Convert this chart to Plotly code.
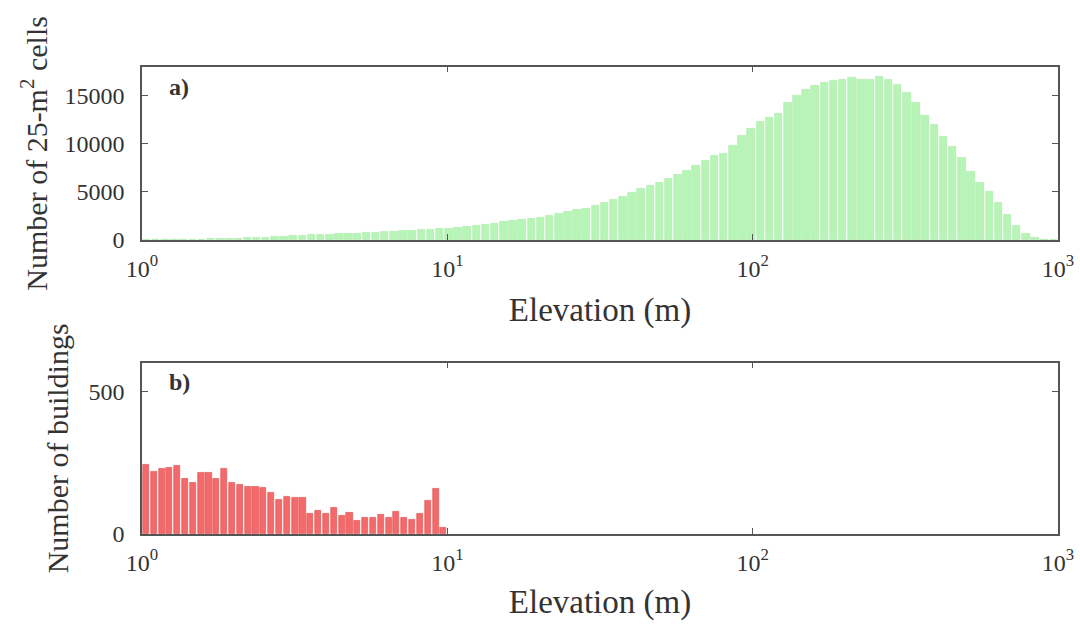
import numpy as np
import plotly.graph_objects as go

# ---------------- data ----------------
# Panel a) number of 25-m2 cells per elevation bin (100 log-spaced bins, 1 m .. 1000 m)
cells_counts = [
    0, 20, 30, 40, 50, 60, 80, 100, 120, 150,
    180, 210, 250, 290, 340, 380, 420, 460, 500, 540,
    580, 620, 660, 700, 740, 790, 830, 880, 930, 980,
    1030, 1080, 1130, 1200, 1300, 1400, 1500, 1600, 1720, 1850,
    2000, 2100, 2200, 2350, 2500, 2700, 2900, 3100, 3300, 3600,
    3900, 4200, 4500, 4900, 5300, 5600, 6000, 6400, 6800, 7200,
    7700, 8200, 8800, 9000, 9800, 10800, 11600, 12300, 12700, 13100,
    14300, 15000, 15600, 16000, 16300, 16500, 16700, 16900, 16700, 16700,
    17000, 16700, 16100, 15300, 14300, 12900, 12000, 10700, 9700, 8500,
    7100, 6000, 5000, 3900, 2600, 1500, 700, 250, 60, 10,
]
cells_decades = 3.0  # bins span 10^0 .. 10^3

# Panel b) number of buildings per elevation bin (39 log-spaced bins, 1 m .. 10 m)
building_counts = [
    241, 217, 227, 232, 238, 194, 178, 213, 213, 194,
    227, 181, 173, 167, 167, 162, 146, 119, 130, 128,
    128, 72, 81, 72, 92, 63, 76, 47, 58, 58,
    66, 57, 77, 57, 51, 72, 116, 157, 22,
]
buildings_decades = 1.0  # bins span 10^0 .. 10^1

x_tick_vals = [0, 1, 2, 3]  # log10(elevation)
x_tick_text = ["10<sup>0</sup>", "10<sup>1</sup>", "10<sup>2</sup>", "10<sup>3</sup>"]
top_y_ticks = [0, 5000, 10000, 15000]
bot_y_ticks = [0, 500]

# bin centres on log10(elevation) scale
n_a = len(cells_counts)
xa = (np.arange(n_a) + 0.5) * cells_decades / n_a
n_b = len(building_counts)
xb = (np.arange(n_b) + 0.5) * buildings_decades / n_b

FONT = "Liberation Serif"
AX = "#555555"
TXT = "#333333"
TICK_SIZE = 24
XTITLE_SIZE = 33
YTITLE_SIZE = 30

fig = go.Figure()
fig.add_trace(go.Bar(
    x=xa, y=cells_counts, xaxis="x", yaxis="y",
    marker=dict(color="#b6f5b6", line=dict(color="#a6eaa6", width=0.6)),
    width=cells_decades / n_a * 0.82, showlegend=False,
))
fig.add_trace(go.Bar(
    x=xb, y=building_counts, xaxis="x2", yaxis="y2",
    marker=dict(color="#f46a6a", line=dict(color="#d84c4c", width=0.6)),
    width=buildings_decades / n_b * 0.78, showlegend=False,
))

common_x = dict(
    range=[0, 3], tickmode="array", tickvals=x_tick_vals, ticktext=x_tick_text,
    showline=True, linecolor=AX, linewidth=1.5, mirror="ticks",
    ticks="inside", ticklen=6, tickcolor=AX, showgrid=False, zeroline=False,
    tickfont=dict(family=FONT, size=TICK_SIZE, color=TXT), ticklabelstandoff=6,
    automargin=False,
)
common_y = dict(
    showline=True, linecolor=AX, linewidth=1.5, mirror="ticks",
    ticks="inside", ticklen=6, tickcolor=AX, showgrid=False, zeroline=False,
    tickfont=dict(family=FONT, size=TICK_SIZE, color=TXT), ticklabelstandoff=11,
    automargin=False,
)

fig.update_layout(
    width=1080, height=627,
    margin=dict(l=0, r=0, t=0, b=0),
    paper_bgcolor="white", plot_bgcolor="white",
    bargap=0,
    xaxis=dict(domain=[0.1315, 0.9796], anchor="y",
               title=dict(text="Elevation (m)", font=dict(family=FONT, size=XTITLE_SIZE, color=TXT), standoff=17),
               **common_x),
    yaxis=dict(domain=[0.6172, 0.8936], anchor="x", range=[0, 18000],
               tickmode="array", tickvals=top_y_ticks, ticktext=[str(v) for v in top_y_ticks],
               title=dict(text="Number of 25-m<sup>2</sup> cells", font=dict(family=FONT, size=YTITLE_SIZE, color=TXT), standoff=8),
               **common_y),
    xaxis2=dict(domain=[0.1315, 0.9796], anchor="y2",
                title=dict(text="Elevation (m)", font=dict(family=FONT, size=XTITLE_SIZE, color=TXT), standoff=15),
                **common_x),
    yaxis2=dict(domain=[0.1483, 0.4215], anchor="x2", range=[0, 600],
                tickmode="array", tickvals=bot_y_ticks, ticktext=[str(v) for v in bot_y_ticks],
                title=dict(text="Number of buildings", font=dict(family=FONT, size=YTITLE_SIZE, color=TXT), standoff=11),
                **common_y),
    annotations=[
        dict(text="<b>a)</b>", xref="x domain", yref="y domain", x=0.027, y=0.885,
             xanchor="left", yanchor="middle", showarrow=False,
             font=dict(family=FONT, size=24, color=TXT)),
        dict(text="<b>b)</b>", xref="x2 domain", yref="y2 domain", x=0.027, y=0.885,
             xanchor="left", yanchor="middle", showarrow=False,
             font=dict(family=FONT, size=24, color=TXT)),
    ],
)

fig.write_html("out.html")
